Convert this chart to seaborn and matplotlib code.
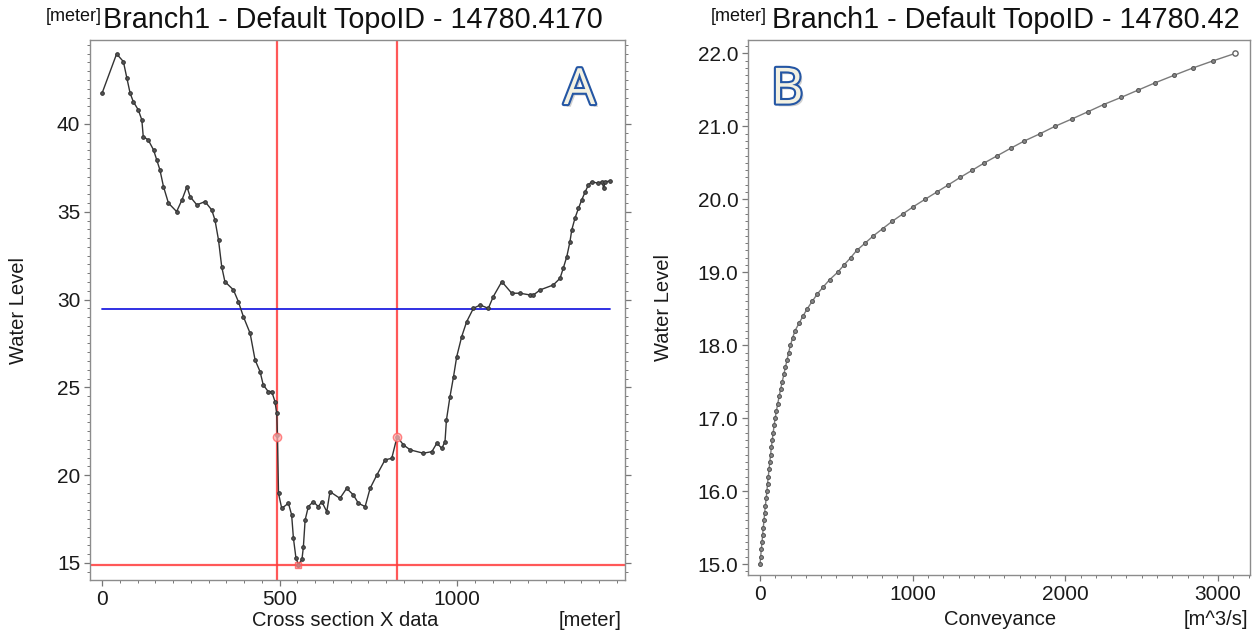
import numpy as np
import pandas as pd
import seaborn as sns
import matplotlib.pyplot as plt
import matplotlib.patheffects as pe
from matplotlib.ticker import MultipleLocator, FormatStrFormatter

# cross section profile (panel A)
section_x = [0, 41, 60, 70, 79, 88, 102, 112, 116, 130, 145, 154, 163, 173, 187, 210, 225, 239, 248, 267,
             290, 309, 318, 328, 337, 346, 370, 384, 398, 417, 431, 445, 454, 468, 478, 487, 492, 494, 497, 506,
             525, 534, 539, 546, 553, 563, 567, 572, 581, 595, 609, 619, 633, 642, 670, 689, 708, 722, 741, 755,
             774, 797, 816, 831, 849, 868, 905, 929, 943, 957, 966, 970, 980, 990, 999, 1013, 1027, 1046, 1065, 1088,
             1102, 1126, 1154, 1177, 1206, 1215, 1234, 1271, 1290, 1299, 1309, 1318, 1323, 1332, 1342, 1351, 1361,
             1370, 1379, 1398, 1408, 1413, 1417, 1431]
section_z = [41.75, 43.99, 43.55, 42.60, 41.75, 41.27, 40.80, 40.23, 39.28, 39.09, 38.52, 37.95, 37.38, 36.43,
             35.49, 35.01, 35.67, 36.43, 35.86, 35.39, 35.58, 35.10, 34.53, 33.39, 31.87, 31.02, 30.55, 29.88,
             29.03, 28.08, 26.56, 25.90, 25.14, 24.76, 24.76, 24.19, 23.52, 22.29, 18.97, 18.11, 18.40, 17.73,
             16.41, 15.30, 14.90, 15.20, 15.90, 17.45, 18.21, 18.49, 18.21, 18.49, 17.92, 19.06, 18.68, 19.25,
             18.87, 18.40, 18.21, 19.25, 20.01, 20.87, 20.96, 22.19, 21.72, 21.44, 21.25, 21.34, 21.82, 21.53,
             21.91, 23.14, 24.47, 25.61, 26.75, 27.89, 28.74, 29.50, 29.69, 29.50, 30.17, 31.02, 30.36, 30.36,
             30.26, 30.26, 30.55, 30.83, 31.21, 31.78, 32.44, 33.30, 33.96, 34.63, 35.20, 35.67, 36.14, 36.53,
             36.71, 36.62, 36.71, 36.34, 36.71, 36.75]
bank_x = [494, 831]
bank_z = 22.2
water_level = 29.45
bottom_level = 14.88
bottom_x = 553
water_x = [0, 1431]

# conveyance curve (panel B)
level = [15.0, 15.1, 15.2, 15.3, 15.4, 15.5, 15.6, 15.7, 15.8, 15.9,
         16.0, 16.1, 16.2, 16.3, 16.4, 16.5, 16.6, 16.7, 16.8, 16.9,
         17.0, 17.1, 17.2, 17.3, 17.4, 17.5, 17.6, 17.7, 17.8, 17.9,
         18.0, 18.1, 18.2, 18.3, 18.4, 18.5, 18.6, 18.7, 18.8, 18.9,
         19.0, 19.1, 19.2, 19.3, 19.4, 19.5, 19.6, 19.7, 19.8, 19.9,
         20.0, 20.1, 20.2, 20.3, 20.4, 20.5, 20.6, 20.7, 20.8, 20.9,
         21.0, 21.1, 21.2, 21.3, 21.4, 21.5, 21.6, 21.7, 21.8, 21.9, 22.0]
conveyance = [0, 4, 8, 13, 17, 21, 26, 30, 35, 40,
              45, 49, 54, 59, 64, 69, 74, 80, 86, 92,
              99, 107, 116, 125, 135, 145, 156, 166, 177, 187,
              199, 213, 229, 255, 281, 309, 341, 374, 414, 456,
              508, 550, 593, 633, 688, 742, 804, 866, 935, 1004,
              1080, 1157, 1234, 1310, 1390, 1469, 1555, 1641, 1730, 1834,
              1930, 2040, 2146, 2250, 2367, 2478, 2590, 2710, 2833, 2968, 3110]

sns.set_style("white")
plt.rcParams['font.family'] = ['Liberation Sans', 'DejaVu Sans']

fig = plt.figure(figsize=(12.59, 6.34), dpi=100)
W, H = 1259, 634
axA = fig.add_axes([90 / W, 1 - 580 / H, 535 / W, 540 / H])
axB = fig.add_axes([748 / W, 1 - 575 / H, 502 / W, 535 / H])

prof = pd.DataFrame({'x': section_x, 'z': section_z})
curve = pd.DataFrame({'K': conveyance, 'h': level})

# ---- panel A
axA.axhline(bottom_level, color='#ff3b3b', lw=1.6, alpha=0.85, zorder=1)
for bx in bank_x:
    axA.axvline(bx, color='#ff3b3b', lw=1.6, alpha=0.85, zorder=1)
axA.plot(water_x, [water_level, water_level], color='#2020e0', lw=1.3, zorder=2)
sns.lineplot(data=prof, x='x', y='z', ax=axA, sort=False, estimator=None, color='#333333', lw=1.0,
             marker='o', markersize=2.6, markerfacecolor='#555555', markeredgecolor='#333333', zorder=3)
axA.plot(bank_x, [bank_z, bank_z], ls='none', marker='o', ms=6, mfc='#ffb0b0', mec='#ff6060', alpha=0.75, zorder=4)
axA.plot([bottom_x], [bottom_level], ls='none', marker='s', ms=5, mfc='#ff9090', mec='#ff5050', alpha=0.7, zorder=4)

axA.set_xlim(-34, 1473)
axA.set_ylim(14.03, 44.78)
axA.xaxis.set_major_locator(MultipleLocator(500))
axA.xaxis.set_minor_locator(MultipleLocator(50))
axA.yaxis.set_major_locator(MultipleLocator(5))
axA.yaxis.set_minor_locator(MultipleLocator(0.5))
axA.tick_params(axis='y', which='both', right=True)

# ---- panel B
sns.lineplot(data=curve, x='K', y='h', ax=axB, sort=False, estimator=None, color='#7a7a7a', lw=1.0,
             marker='o', markersize=2.8, markerfacecolor='#888888', markeredgecolor='#555555')
axB.plot([conveyance[-1]], [level[-1]], ls='none', marker='o', ms=3.8, mfc='white', mec='#666666', zorder=5)
axB.set_xlim(-79, 3209)
axB.set_ylim(14.85, 22.185)
axB.xaxis.set_major_locator(MultipleLocator(1000))
axB.xaxis.set_minor_locator(MultipleLocator(100))
axB.yaxis.set_major_locator(MultipleLocator(1))
axB.yaxis.set_minor_locator(MultipleLocator(0.1))
axB.yaxis.set_major_formatter(FormatStrFormatter('%.1f'))

for ax in (axA, axB):
    for s in ax.spines.values():
        s.set_color('#8c8c8c')
        s.set_linewidth(1.0)
    ax.tick_params(which='both', direction='out', color='#777777', labelsize=15, labelcolor='#1a1a1a', pad=3)
    ax.tick_params(which='major', length=4, width=0.9)
    ax.tick_params(which='minor', length=2.2, width=0.7)
    ax.tick_params(which='both', bottom=True, left=True)
    ax.set_ylabel('Water Level', fontsize=14.5, color='#1a1a1a')
    ax.set_xlabel('')

axA.yaxis.set_label_coords(-0.115, 0.5)
axB.yaxis.set_label_coords(-0.15, 0.5)

axA.text(0.477, -0.058, 'Cross section X data', transform=axA.transAxes, ha='center', va='top',
         fontsize=14.5, color='#1a1a1a')
axA.text(0.994, -0.058, '[meter]', transform=axA.transAxes, ha='right', va='top', fontsize=14.5, color='#1a1a1a')
axB.text(0.502, -0.066, 'Conveyance', transform=axB.transAxes, ha='center', va='top', fontsize=14.5, color='#1a1a1a')
axB.text(0.996, -0.066, '[m^3/s]', transform=axB.transAxes, ha='right', va='top', fontsize=14.5, color='#1a1a1a')

# titles with the small unit prefix
tA = axA.text(0.959, 1.012, 'Branch1 - Default TopoID - 14780.4170', transform=axA.transAxes,
              ha='right', va='bottom', fontsize=20.7, color='#111111')
axA.annotate('[meter]', xy=(0, 1), xycoords=tA, xytext=(-1, -2), textcoords='offset points',
             ha='right', va='top', fontsize=13, color='#111111')
tB = axB.text(0.980, 1.012, 'Branch1 - Default TopoID - 14780.42', transform=axB.transAxes,
              ha='right', va='bottom', fontsize=20.7, color='#111111')
axB.annotate('[meter]', xy=(0, 1), xycoords=tB, xytext=(-4, -2), textcoords='offset points',
             ha='right', va='top', fontsize=13, color='#111111')

# panel letters
letter_fx = [pe.SimplePatchShadow(offset=(2, -2), shadow_rgbFace='#b0b0b0', alpha=0.6),
             pe.withStroke(linewidth=3, foreground='#2456a4')]
axA.text(0.915, 0.905, 'A', transform=axA.transAxes, ha='center', va='center', fontsize=36,
         family=['Open Sans', 'DejaVu Sans'], color='#f3f1e2', path_effects=letter_fx)
axB.text(0.078, 0.905, 'B', transform=axB.transAxes, ha='center', va='center', fontsize=36,
         family=['Open Sans', 'DejaVu Sans'], color='#f3f1e2', path_effects=letter_fx)

fig.savefig('out.png', dpi=100, facecolor='white')
